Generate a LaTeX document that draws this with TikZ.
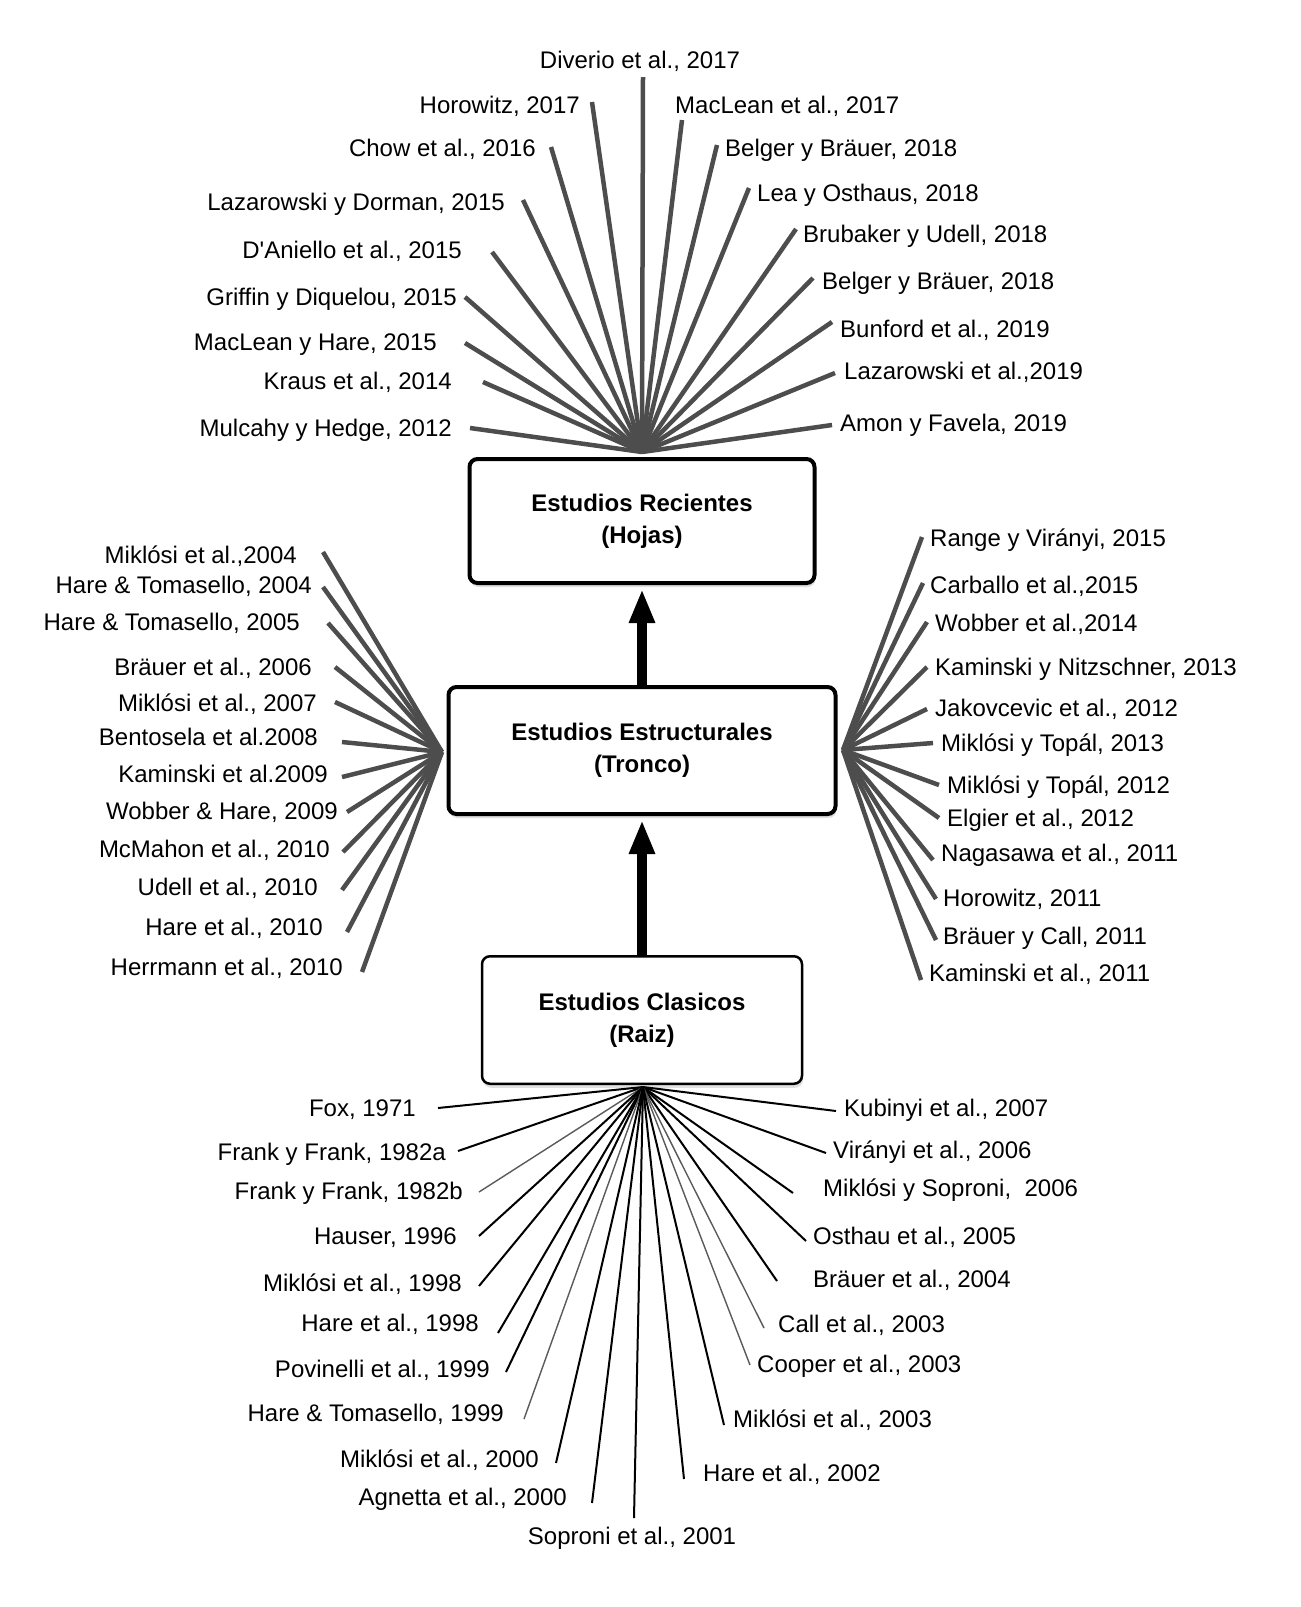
\documentclass[tikz,border=0pt]{standalone}
\usepackage{fontspec}
\setmainfont{Liberation Sans}
\usetikzlibrary{arrows.meta,shadows}
\definecolor{fangray}{HTML}{4D4D4D}
\definecolor{thingray}{HTML}{5A5A5A}
\begin{document}
\begin{tikzpicture}[x=1pt,y=-1pt,
  lbl/.style={inner sep=0pt, text height=17pt, text depth=0pt, font=\fontsize{24pt}{28pt}\selectfont},
  lblL/.style={lbl, anchor=east},
  lblR/.style={lbl, anchor=west},
  lblC/.style={lbl, anchor=center},
  fanT/.style={draw=fangray, line width=4.5pt},
  fanB/.style={draw=black, line width=2pt},
  fanG/.style={draw=thingray, line width=1.4pt},
  box/.style={draw=black, fill=white, rounded corners=8pt, align=center, inner sep=0pt,
    font=\fontsize{24pt}{32pt}\selectfont\bfseries,
    drop shadow={shadow xshift=1pt, shadow yshift=-4pt, opacity=0.12, fill=black}},
  bigarrow/.style={draw=black, line width=10pt, -{Triangle[width=24pt,length=34pt]}, shorten >=4pt}
]
\fill[white] (0,0) rectangle (1301,1607);
\useasboundingbox (0,0) rectangle (1301,1607);

% hubs
\coordinate (hubT) at (642,452);
\coordinate (hubL) at (442,752);
\coordinate (hubR) at (843,750);
\coordinate (hubB) at (643,1087);

% ---------- top fan (Hojas) ----------
\coordinate (tc) at (643,77);
\draw[fanT] (hubT) -- (tc);
\node[lblC] (ltc) at (640,60) {Diverio et al., 2017};

\foreach \i/\ex/\ey/\lx/\ly/\txt in {
  1/592/102/580/105/{Horowitz, 2017},
  2/551/147/536/148/{Chow et al., 2016},
  3/523/200/505/202/{Lazarowski y Dorman, 2015},
  4/492/252/462/250/{D\textquotesingle Aniello et al., 2015},
  5/465/297/457/297/{Griffin y Diquelou, 2015},
  6/465/343/437/342/{MacLean y Hare, 2015},
  7/483/382/452/381/{Kraus et al., 2014},
  8/470/428/452/428/{Mulcahy y Hedge, 2012}}
{
  \coordinate (tl\i) at (\ex,\ey);
  \draw[fanT] (hubT) -- (tl\i);
  \node[lblL] (ltl\i) at (\lx,\ly) {\txt};
}

\foreach \i/\ex/\ey/\lx/\ly/\txt in {
  1/682/120/675/105/{MacLean et al., 2017},
  2/717/145/725/148/{Belger y Bräuer, 2018},
  3/749/188/757/193/{Lea y Osthaus, 2018},
  4/796/229/803/234/{Brubaker y Udell, 2018},
  5/813/278/822/281/{Belger y Bräuer, 2018},
  6/832/322/840/329/{Bunford et al., 2019},
  7/835/373/844/371/{Lazarowski et al.,2019},
  8/832/425/840/423/{Amon y Favela, 2019}}
{
  \coordinate (tr\i) at (\ex,\ey);
  \draw[fanT] (hubT) -- (tr\i);
  \node[lblR] (ltr\i) at (\lx,\ly) {\txt};
}

% ---------- middle fans (Tronco) ----------
\foreach \i/\ex/\ey/\lx/\ly/\txt in {
  1/323/552/297/555/{Miklósi et al.,2004},
  2/323/587/312/585/{Hare \& Tomasello, 2004},
  3/328/623/300/622/{Hare \& Tomasello, 2005},
  4/335/667/312/667/{Bräuer et al., 2006},
  5/335/702/317/703/{Miklósi et al., 2007},
  6/342/742/318/737/{Bentosela et al.2008},
  7/342/777/328/774/{Kaminski et al.2009},
  8/347/812/338/811/{Wobber \& Hare, 2009},
  9/343/852/330/849/{McMahon et al., 2010},
  10/342/890/318/887/{Udell et al., 2010},
  11/347/932/323/927/{Hare et al., 2010},
  12/362/972/343/967/{Herrmann et al., 2010}}
{
  \coordinate (ml\i) at (\ex,\ey);
  \draw[fanT] (hubL) -- (ml\i);
  \node[lblL] (lml\i) at (\lx,\ly) {\txt};
}

\foreach \i/\ex/\ey/\lx/\ly/\txt in {
  1/922/537/930/538/{Range y Virányi, 2015},
  2/923/583/930/585/{Carballo et al.,2015},
  3/927/622/935/623/{Wobber et al.,2014},
  4/927/667/935/667/{Kaminski y Nitzschner, 2013},
  5/927/709/935/708/{Jakovcevic et al., 2012},
  6/933/743/941/743/{Miklósi y Topál, 2013},
  7/939/785/947/785/{Miklósi y Topál, 2012},
  8/939/818/947/818/{Elgier et al., 2012},
  9/933/860/941/853/{Nagasawa et al., 2011},
  10/936/899/943/898/{Horowitz, 2011},
  11/936/940/943/936/{Bräuer y Call, 2011},
  12/921/980/929/973/{Kaminski et al., 2011}}
{
  \coordinate (mr\i) at (\ex,\ey);
  \draw[fanT] (hubR) -- (mr\i);
  \node[lblR] (lmr\i) at (\lx,\ly) {\txt};
}

% ---------- bottom fan (Raiz) ----------
\foreach \i/\st/\ex/\ey/\lx/\ly/\txt in {
  1/fanB/438/1108/416/1108/{Fox, 1971},
  2/fanB/458/1151/446/1152/{Frank y Frank, 1982a},
  3/fanG/479/1192/463/1191/{Frank y Frank, 1982b},
  4/fanB/479/1236/457/1236/{Hauser, 1996},
  5/fanB/479/1286/462/1283/{Miklósi et al., 1998},
  6/fanB/498/1333/479/1323/{Hare et al., 1998},
  7/fanB/506/1372/490/1369/{Povinelli et al., 1999},
  8/fanG/524/1419/504/1413/{Hare \& Tomasello, 1999},
  9/fanB/556/1463/539/1459/{Miklósi et al., 2000},
  10/fanB/592/1503/567/1497/{Agnetta et al., 2000}}
{
  \coordinate (bl\i) at (\ex,\ey);
  \draw[\st] (hubB) -- (bl\i);
  \node[lblL] (lbl\i) at (\lx,\ly) {\txt};
}

\coordinate (bc) at (634,1518);
\draw[fanB] (hubB) -- (bc);
\node[lblC] (lbc) at (632,1536) {Soproni et al., 2001};

\foreach \i/\st/\ex/\ey/\lx/\ly/\txt in {
  1/fanB/836/1111/844/1108/{Kubinyi et al., 2007},
  2/fanB/826/1153/833/1150/{Virányi et al., 2006},
  3/fanB/793/1193/823/1188/{Miklósi y Soproni,\ \ 2006},
  4/fanB/806/1241/813/1236/{Osthau et al., 2005},
  5/fanB/777/1281/813/1279/{Bräuer et al., 2004},
  6/fanG/764/1328/778/1324/{Call et al., 2003},
  7/fanG/750/1365/757/1364/{Cooper et al., 2003},
  8/fanB/724/1425/733/1419/{Miklósi et al., 2003},
  9/fanB/684/1479/703/1473/{Hare et al., 2002}}
{
  \coordinate (br\i) at (\ex,\ey);
  \draw[\st] (hubB) -- (br\i);
  \node[lblR] (lbr\i) at (\lx,\ly) {\txt};
}

% ---------- boxes ----------
\node[box, line width=4pt, minimum width=345pt, minimum height=124pt] (rec) at (642,521)
  {Estudios Recientes\\(Hojas)};
\node[box, line width=4pt, minimum width=387pt, minimum height=127pt] (est) at (642,750.5)
  {Estudios Estructurales\\(Tronco)};
\node[box, line width=2.5pt, minimum width=320pt, minimum height=127.5pt] (cla) at (642,1020)
  {Estudios Clasicos\\(Raiz)};

% ---------- arrows ----------
\draw[bigarrow] (cla.north) -- (est.south);
\draw[bigarrow] (est.north) -- (rec.south);

\end{tikzpicture}
\end{document}
